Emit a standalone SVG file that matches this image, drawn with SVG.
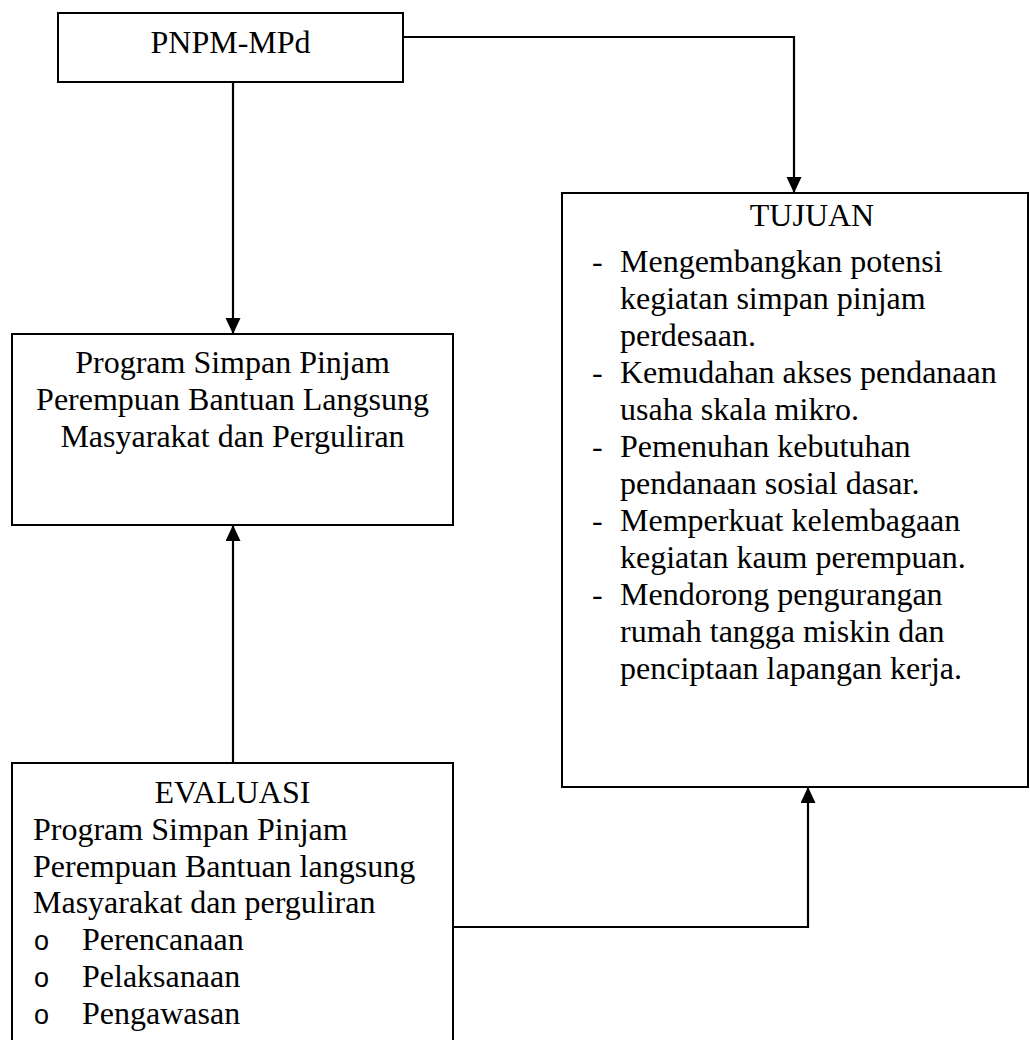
<svg xmlns="http://www.w3.org/2000/svg" width="1030" height="1040" viewBox="0 0 1030 1040">
<style>
.box{fill:#fff;stroke:#000;stroke-width:2}
.t{font-family:"Liberation Serif","Times New Roman",serif;font-size:32px;fill:#000}
.c{text-anchor:middle}
.conn{fill:none;stroke:#000;stroke-width:2.2}
.bul{font-family:"Liberation Sans",Arial,sans-serif;font-size:27px;fill:#000}
</style>
<defs>
<marker id="arr" markerUnits="userSpaceOnUse" markerWidth="16" markerHeight="16" refX="16" refY="7.5" orient="auto">
<path d="M0,0 L16,7.5 L0,15 z" fill="#000"/>
</marker>
</defs>
<rect width="1030" height="1040" fill="#fff"/>
<g id="connectors">
<path class="conn" d="M233,82 L233,334" marker-end="url(#arr)"/>
<path class="conn" d="M403,37 L794,37 L794,193" marker-end="url(#arr)"/>
<path class="conn" d="M233,763 L233,525" marker-end="url(#arr)"/>
<path class="conn" d="M453,927 L808,927 L808,787" marker-end="url(#arr)"/>
</g>
<g id="pnpm">
<rect class="box" x="58" y="13" width="345" height="69"/>
<text class="t c" x="230.5" y="53">PNPM-MPd</text>
</g>
<g id="program">
<rect class="box" x="12" y="334" width="441" height="191"/>
<text class="t c" x="232.5" y="373">Program Simpan Pinjam</text>
<text class="t c" x="232.5" y="410">Perempuan Bantuan Langsung</text>
<text class="t c" x="232.5" y="447">Masyarakat dan Perguliran</text>
</g>
<g id="tujuan">
<rect class="box" x="562" y="193" width="466" height="594"/>
<text class="t c" x="812" y="226">TUJUAN</text>
<text class="t" x="592" y="272">-</text><text class="t" x="620" y="272">Mengembangkan potensi</text>
<text class="t" x="620" y="309">kegiatan simpan pinjam</text>
<text class="t" x="620" y="346">perdesaan.</text>
<text class="t" x="592" y="383">-</text><text class="t" x="620" y="383">Kemudahan akses pendanaan</text>
<text class="t" x="620" y="420">usaha skala mikro.</text>
<text class="t" x="592" y="457">-</text><text class="t" x="620" y="457">Pemenuhan kebutuhan</text>
<text class="t" x="620" y="494">pendanaan sosial dasar.</text>
<text class="t" x="592" y="531">-</text><text class="t" x="620" y="531">Memperkuat kelembagaan</text>
<text class="t" x="620" y="568">kegiatan kaum perempuan.</text>
<text class="t" x="592" y="605">-</text><text class="t" x="620" y="605">Mendorong pengurangan</text>
<text class="t" x="620" y="642">rumah tangga miskin dan</text>
<text class="t" x="620" y="679">penciptaan lapangan kerja.</text>
</g>
<g id="evaluasi">
<rect class="box" x="12" y="763" width="441" height="300"/>
<text class="t c" x="232.5" y="803">EVALUASI</text>
<text class="t" x="33" y="840">Program Simpan Pinjam</text>
<text class="t" x="33" y="877">Perempuan Bantuan langsung</text>
<text class="t" x="33" y="913">Masyarakat dan perguliran</text>
<text class="bul" x="34" y="950">o</text><text class="t" x="82" y="950">Perencanaan</text>
<text class="bul" x="34" y="987">o</text><text class="t" x="82" y="987">Pelaksanaan</text>
<text class="bul" x="34" y="1024">o</text><text class="t" x="82" y="1024">Pengawasan</text>
</g>
</svg>
